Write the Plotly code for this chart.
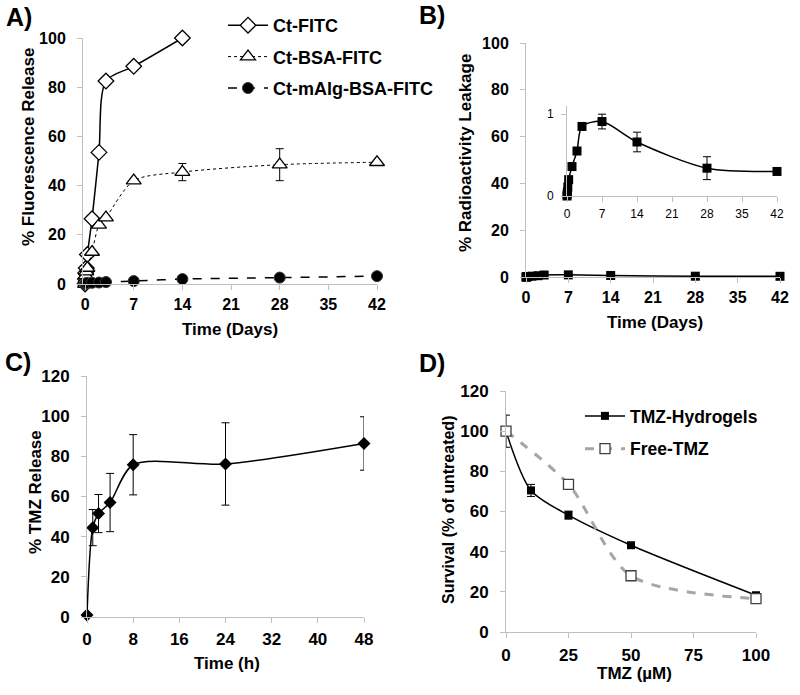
import plotly.graph_objects as go

# ---------------- Data ----------------
# Panel A
t_days_fitc = [0, 0.042, 0.083, 0.167, 0.333, 1, 2, 3, 7, 14]
ct_fitc = [0, 2, 4.5, 6.5, 12, 26.5, 53.5, 82.5, 88.5, 100]
t_days = [0, 0.042, 0.083, 0.167, 0.333, 1, 2, 3, 7, 14, 28, 42]
ct_bsa_fitc = [0, 2, 3.5, 5, 6.5, 13, 24, 27, 42, 45.5, 48.5, 49.5]
ct_bsa_fitc_err = [0, 0, 0, 0, 0, 0, 0, 0, 0, 3.5, 6.5, 0]
ct_malg_bsa_fitc = [0, 0.1, 0.2, 0.3, 0.4, 0.5, 0.6, 0.8, 1.2, 2.0, 2.6, 3.2]

# Panel B
radio_leak = [0, 0.02, 0.05, 0.11, 0.2, 0.36, 0.55, 0.85, 0.91, 0.66, 0.34, 0.3]
radio_leak_err = [0, 0, 0, 0, 0, 0, 0, 0, 0.09, 0.12, 0.14, 0]

# Panel C
t_hours = [0, 1, 2, 4, 8, 24, 48]
tmz_release = [1, 44.5, 51.5, 57, 75.8, 76.2, 86.4]
tmz_release_err = [0, 9, 9.5, 14.5, 15, 20.5, 13.3]

# Panel D
conc_hydro = [0, 10, 25, 50, 100]
surv_hydro = [100, 70.5, 58.2, 43.2, 18.3]
surv_hydro_err = [8, 3, 2, 1, 1]
conc_free = [0, 25, 50, 100]
surv_free = [100, 73.5, 28, 16.6]

xticks_days = [0, 7, 14, 21, 28, 35, 42]
xticks_hours = [0, 8, 16, 24, 32, 40, 48]
xticks_conc = [0, 25, 50, 75, 100]

FONT = "Liberation Sans, Arial, sans-serif"
AX = "#bfbfbf"
W, H = 800, 695


def px_x(p):
    return p / W


def px_y(p):
    return 1 - p / H


fig = go.Figure()

# ---- Panel A ----
fig.add_trace(go.Scatter(
    x=t_days_fitc, y=ct_fitc, name="Ct-FITC", legendgroup="a1",
    mode="lines+markers", line=dict(color="black", width=1.5, shape="spline", smoothing=0.8),
    marker=dict(symbol="diamond", size=12, color="white", line=dict(color="black", width=1.3)),
    xaxis="x", yaxis="y", cliponaxis=False, legend="legend"))
fig.add_trace(go.Scatter(
    x=t_days, y=ct_bsa_fitc, name="Ct-BSA-FITC", legendgroup="a2",
    mode="lines+markers", line=dict(color="black", width=1, dash="dot", shape="spline", smoothing=0.8),
    marker=dict(symbol="triangle-up", size=13, color="white", line=dict(color="black", width=1.3)),
    error_y=dict(type="data", array=ct_bsa_fitc_err, color="black", thickness=1, width=4),
    xaxis="x", yaxis="y", cliponaxis=False, legend="legend"))
fig.add_trace(go.Scatter(
    x=t_days, y=ct_malg_bsa_fitc, name="Ct-mAlg-BSA-FITC", legendgroup="a3",
    mode="lines+markers", line=dict(color="black", width=1.5, dash="dash", shape="spline", smoothing=0.8),
    marker=dict(symbol="circle", size=11, color="black", line=dict(color="#333", width=1)),
    xaxis="x", yaxis="y", cliponaxis=False, legend="legend"))

# ---- Panel B main ----
fig.add_trace(go.Scatter(
    x=t_days, y=radio_leak, name="B", showlegend=False,
    mode="lines+markers", line=dict(color="black", width=1.5, shape="spline", smoothing=0.8),
    marker=dict(symbol="square", size=9, color="black"),
    xaxis="x2", yaxis="y2", cliponaxis=False))
# ---- Panel B inset ----
fig.add_trace(go.Scatter(
    x=t_days, y=radio_leak, name="B inset", showlegend=False,
    mode="lines+markers", line=dict(color="black", width=1.5, shape="spline", smoothing=0.8),
    marker=dict(symbol="square", size=9, color="black"),
    error_y=dict(type="data", array=radio_leak_err, color="black", thickness=1, width=4),
    xaxis="x5", yaxis="y5", cliponaxis=False))

# ---- Panel C ----
fig.add_trace(go.Scatter(
    x=t_hours, y=tmz_release, name="C", showlegend=False,
    mode="lines+markers", line=dict(color="black", width=1.5, shape="spline", smoothing=0.8),
    marker=dict(symbol="diamond", size=10, color="black"),
    error_y=dict(type="data", array=tmz_release_err, color="black", thickness=1, width=4),
    xaxis="x3", yaxis="y3", cliponaxis=False))

# ---- Panel D ----
fig.add_trace(go.Scatter(
    x=conc_hydro, y=surv_hydro, name="TMZ-Hydrogels", legendgroup="d1",
    mode="lines+markers", line=dict(color="black", width=1.5, shape="spline", smoothing=0.8),
    marker=dict(symbol="square", size=8, color="black"),
    error_y=dict(type="data", array=surv_hydro_err, color="black", thickness=1, width=4),
    xaxis="x4", yaxis="y4", cliponaxis=False, legend="legend2"))
fig.add_trace(go.Scatter(
    x=conc_free, y=surv_free, name="Free-TMZ", legendgroup="d2",
    mode="lines+markers", line=dict(color="#a6a6a6", width=3, dash="dash", shape="spline", smoothing=0.8),
    marker=dict(symbol="square", size=10, color="white", line=dict(color="#404040", width=1.3)),
    xaxis="x4", yaxis="y4", cliponaxis=False, legend="legend2"))


def axis(domain, rng, tickvals, anchor, size=16, bold=True, standoff=8):
    return dict(domain=domain, range=rng, tickvals=tickvals, anchor=anchor,
                showline=True, linecolor=AX, linewidth=1, ticks="outside", ticklen=5,
                tickcolor=AX, showgrid=False, zeroline=False, fixedrange=True,
                automargin=False, ticklabelstandoff=standoff,
                tickfont=dict(family=FONT, size=size, color="black",
                              weight="bold" if bold else "normal"))


layout = dict(
    template="none",
    width=W, height=H, margin=dict(l=0, r=0, t=0, b=0, pad=0, autoexpand=False),
    paper_bgcolor="white", plot_bgcolor="rgba(0,0,0,0)",
    font=dict(family=FONT, color="black"),
    # A
    xaxis=axis([px_x(83), px_x(377)], [-0.3, 42], xticks_days, "y", standoff=1),
    yaxis=axis([px_y(284), px_y(38)], [0, 100], [0, 20, 40, 60, 80, 100], "x"),
    # B
    xaxis2=axis([px_x(526), px_x(780)], [0, 42], xticks_days, "y2", standoff=1),
    yaxis2=axis([px_y(277), px_y(43)], [0, 100], [0, 20, 40, 60, 80, 100], "x2"),
    # C
    xaxis3=axis([px_x(87), px_x(364)], [0, 48], xticks_hours, "y3", size=17, standoff=2),
    yaxis3=axis([px_y(617), px_y(376)], [0, 120], [0, 20, 40, 60, 80, 100, 120], "x3", size=17),
    # D
    xaxis4=axis([px_x(506), px_x(756)], [0, 100], xticks_conc, "y4", size=17, standoff=3),
    yaxis4=axis([px_y(632), px_y(391)], [0, 120], [0, 20, 40, 60, 80, 100, 120], "x4", size=17),
    # B inset
    xaxis5=axis([px_x(567), px_x(777)], [0, 42], xticks_days, "y5", size=12, bold=False, standoff=2),
    yaxis5=axis([px_y(196), px_y(106)], [0, 1.1], [0, 1], "x5", size=12, bold=False, standoff=5),
    showlegend=True,
    legend=dict(x=px_x(223), y=px_y(7), xanchor="left", yanchor="top",
                bgcolor="rgba(0,0,0,0)", tracegroupgap=5, itemwidth=40,
                font=dict(family=FONT, size=18, weight="bold", color="black")),
    legend2=dict(x=px_x(580), y=px_y(398), xanchor="left", yanchor="top",
                 bgcolor="rgba(0,0,0,0)", tracegroupgap=7, itemwidth=40,
                 font=dict(family=FONT, size=17.5, weight="bold", color="black")),
)
fig.update_layout(**layout)


def ann(text, x, y, size, angle=0):
    fig.add_annotation(text=text, x=px_x(x), y=px_y(y), xref="paper", yref="paper",
                       showarrow=False, textangle=angle, xanchor="center", yanchor="middle",
                       font=dict(family=FONT, size=size, color="black", weight="bold"))


# Panel labels
ann("A)", 19, 17, 25)
ann("B)", 432, 15, 25)
ann("C)", 18, 362, 25)
ann("D)", 432, 363, 25)
# Axis titles
ann("% Fluorescence Release", 28, 147, 17, -90)
ann("Time (Days)", 230, 329, 17)
ann("% Radioactivity Leakage", 465, 153, 17, -90)
ann("Time (Days)", 655, 322, 17)
ann("% TMZ Release", 35, 492, 17, -90)
ann("Time (h)", 227, 663, 17)
ann("Survival (% of untreated)", 448, 510, 16, -90)
ann("TMZ (µM)", 634, 673, 17)

fig.write_html("out.html", config={"displayModeBar": False},
               post_script="document.body.style.margin='0';")
